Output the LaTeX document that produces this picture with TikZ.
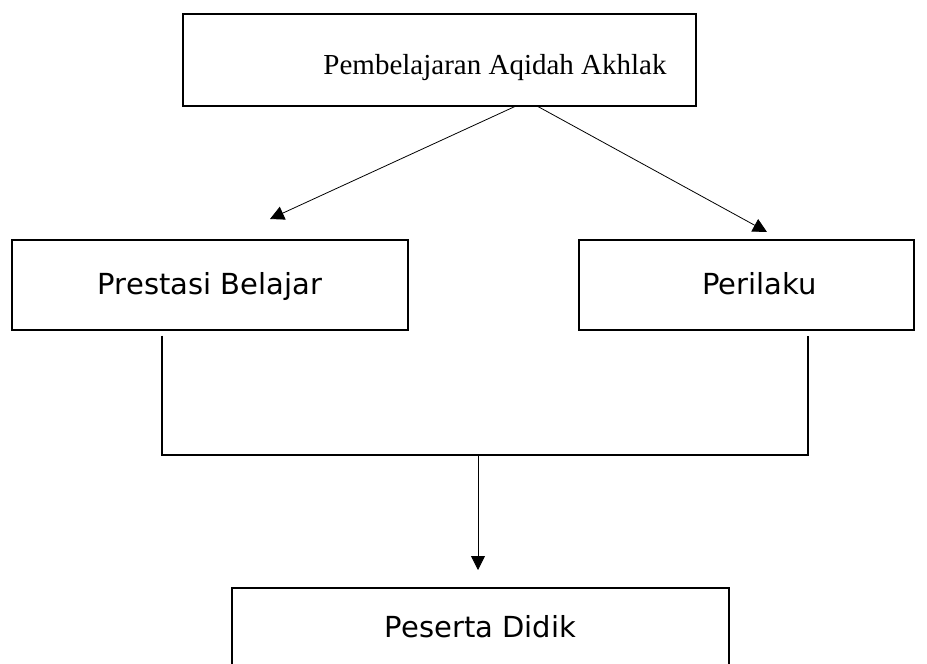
\documentclass[tikz,border=0pt]{standalone}
\usepackage{fontspec}
\setmainfont{Liberation Serif}
\newfontfamily\boxfont{DejaVu Sans}
\usepackage{tikz}
\usetikzlibrary{arrows.meta,positioning}

\begin{document}
\begin{tikzpicture}[x=1pt,y=-1pt,line width=1.1pt,
  kotak/.style={draw,rectangle,inner sep=0pt},
  isi/.style={font=\boxfont\fontsize{29}{34}\selectfont,text height=21pt,text depth=3pt},
  panah/.style={-{Triangle[width=14pt,length=14pt]},line width=0.8pt}]
  \useasboundingbox (0,0) rectangle (927,664);
  \clip (0,0) rectangle (927,664);
  % boxes
  \node[kotak,minimum width=513pt,minimum height=92pt] (aqidah) at (439.5,60) {};
  \node[font=\fontsize{29}{34}\selectfont,text height=20pt,text depth=6pt] (judul) at (495,67)
    {Pembelajaran Aqidah Akhlak};
  \node[kotak,isi,minimum width=396pt,minimum height=90pt] (prestasi) at (210,285)
    {Prestasi Belajar};
  \node[kotak,isi,minimum width=335pt,minimum height=90pt] (perilaku) at (746.5,285)
    {\hspace*{26pt}Perilaku};
  \node[kotak,isi,minimum width=497pt,minimum height=80pt] (peserta) at (480.5,628)
    {Peserta Didik};
  % connector points
  \coordinate (a1) at (516,106);
  \coordinate (a2) at (537,106);
  \coordinate (t1) at (270,219);
  \coordinate (t2) at (767,232);
  \coordinate (p1) at ([yshift=-5pt]prestasi.south -| 162,0);
  \coordinate (p2) at ([yshift=-5pt]perilaku.south -| 808,0);
  \coordinate (j1) at (162,455);
  \coordinate (j2) at (808,455);
  \coordinate (m) at (478,455);
  \coordinate (d) at (478,570);
  % arrows
  \draw[panah] (a1) -- (t1);
  \draw[panah] (a2) -- (t2);
  \draw (p1) -- (j1) -- (j2) -- (p2);
  \draw[panah] (m) -- (d);
\end{tikzpicture}
\end{document}
